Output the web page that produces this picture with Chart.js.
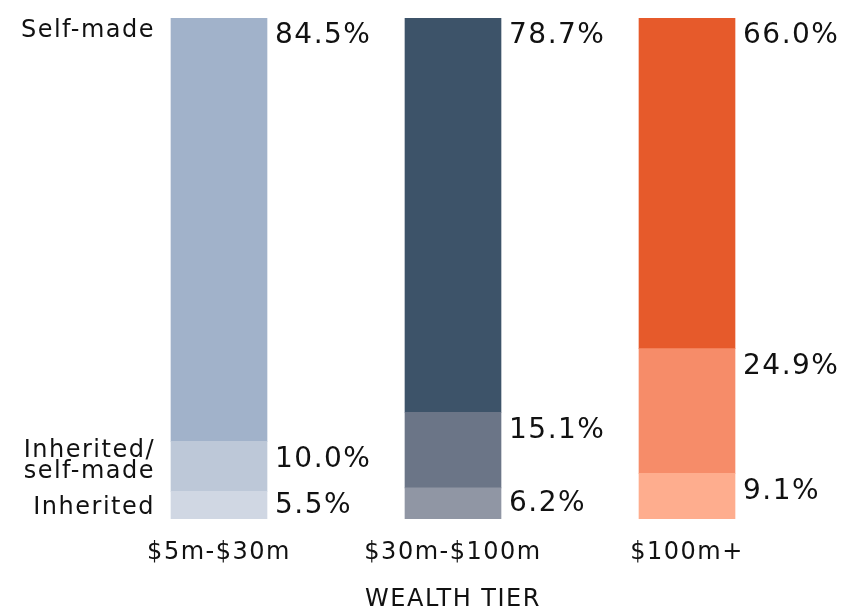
<!DOCTYPE html>
<html>
<head>
<meta charset="utf-8">
<script src="https://cdn.jsdelivr.net/npm/chart.js@4"></script>
<style>
  html, body { margin: 0; padding: 0; background: #fff; }
  #wrap { width: 850px; height: 609px; }
</style>
</head>
<body>
<div id="wrap"><canvas id="chart"></canvas></div>
<script>
const tiers = ['$5m-$30m', '$30m-$100m', '$100m+'];
const inherited = [5.5, 6.2, 9.1];
const mixed = [10.0, 15.1, 24.9];
const selfMade = [84.5, 78.7, 66.0];
const segmentNames = ['Inherited', ['Inherited/', 'self-made'], 'Self-made'];

// each bar has its own shade family
const inheritedColors = ['#D0D7E3', '#9096A4', '#FEAD8E'];
const mixedColors = ['#BDC8D8', '#6B7587', '#F68C69'];
const selfMadeColors = ['#A1B2CA', '#3D5369', '#E65A2B'];

const FONT = '"DejaVu Sans", sans-serif';

// wider tracking, closer to the original typeface
const spacingPlugin = {
  id: 'spacing',
  beforeUpdate(chart) { chart.ctx.letterSpacing = '1.5px'; },
  beforeDraw(chart) { chart.ctx.letterSpacing = '1.5px'; }
};

// percentage next to each segment, names left of the first bar
const labelPlugin = {
  id: 'segmentLabels',
  afterDatasetsDraw(chart) {
    const ctx = chart.ctx;
    ctx.save();
    ctx.fillStyle = '#111';
    chart.data.datasets.forEach((ds, di) => {
      const meta = chart.getDatasetMeta(di);
      meta.data.forEach((bar, i) => {
        const top = Math.min(bar.y, bar.base);
        const bottom = Math.max(bar.y, bar.base);
        const y = Math.min(top + 18, (top + bottom) / 2);
        ctx.font = '28px ' + FONT;
        ctx.letterSpacing = '1.5px';
        ctx.textAlign = 'left';
        ctx.textBaseline = 'middle';
        ctx.fillText(ds.data[i].toFixed(1) + '%', bar.x + bar.width / 2 + 8, y);

        if (i === 0) {
          const name = segmentNames[di];
          ctx.font = '24px ' + FONT;
          ctx.letterSpacing = '1.5px';
          ctx.textAlign = 'right';
          const x = bar.x - bar.width / 2 - 16;
          if (Array.isArray(name)) {
            ctx.fillText(name[0], x, top + 9);
            ctx.fillText(name[1], x, top + 30);
          } else if (di === 2) {
            ctx.fillText(name, x, top + 13);
          } else {
            ctx.fillText(name, x, y + 3);
          }
        }
      });
    });
    ctx.restore();
  }
};

new Chart(document.getElementById('chart'), {
  type: 'bar',
  data: {
    labels: tiers,
    datasets: [
      { label: 'Inherited', data: inherited, backgroundColor: inheritedColors },
      { label: 'Inherited/self-made', data: mixed, backgroundColor: mixedColors },
      { label: 'Self-made', data: selfMade, backgroundColor: selfMadeColors }
    ]
  },
  options: {
    responsive: true,
    maintainAspectRatio: false,
    animation: false,
    layout: { padding: { left: 102, right: 46, top: 18, bottom: 0 } },
    datasets: { bar: { barThickness: 96, borderWidth: 0 } },
    plugins: {
      legend: { display: false },
      tooltip: { enabled: false }
    },
    scales: {
      x: {
        stacked: true,
        grid: { display: false },
        border: { display: false },
        ticks: { color: '#111', font: { family: FONT, size: 24, lineHeight: 1 }, padding: 14 },
        title: {
          display: true,
          text: 'WEALTH TIER',
          color: '#111',
          font: { family: FONT, size: 24, lineHeight: 0.75 },
          padding: { top: 0, bottom: 0 }
        },
        afterFit(scale) { scale.height = 90; }
      },
      y: {
        stacked: true,
        display: false,
        min: 0,
        max: 100
      }
    }
  },
  plugins: [spacingPlugin, labelPlugin]
});
</script>
</body>
</html>
